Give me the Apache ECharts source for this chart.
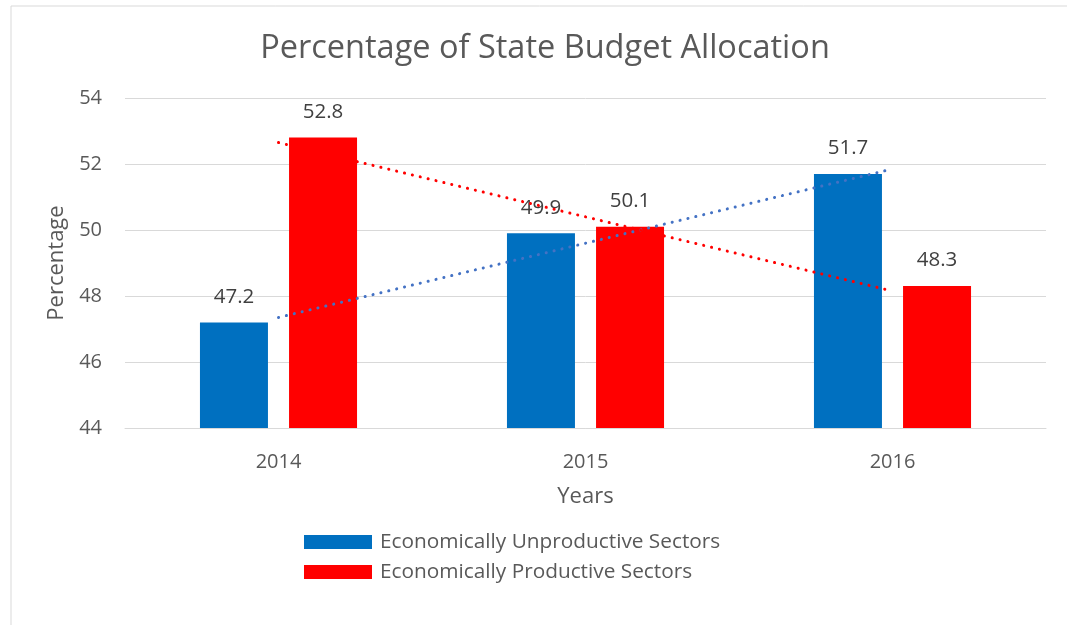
<!DOCTYPE html>
<html><head><meta charset="utf-8">
<script src="https://cdn.jsdelivr.net/npm/echarts@6/dist/echarts.min.js"></script>
<style>html,body{margin:0;padding:0;background:#fff}#c{width:1067px;height:625px}</style>
</head><body><div id="c"></div>
<script>
const categories = ['2014', '2015', '2016'];
const unproductive = [47.2, 49.9, 51.7];
const productive = [52.8, 50.1, 48.3];
const seriesNames = ['Economically Unproductive Sectors', 'Economically Productive Sectors'];
const titleText = 'Percentage of State Budget Allocation';

function trend(vals) {
  const n = vals.length;
  const xs = vals.map((_, i) => i);
  const mx = xs.reduce((a, b) => a + b, 0) / n;
  const my = vals.reduce((a, b) => a + b, 0) / n;
  let num = 0, den = 0;
  xs.forEach((x, i) => { num += (x - mx) * (vals[i] - my); den += (x - mx) * (x - mx); });
  const k = num / den, b = my - k * mx;
  return xs.map(x => +(b + k * x).toFixed(4));
}

const FONT = '"Open Sans", "Noto Sans", sans-serif';
const chart = echarts.init(document.getElementById('c'));
const labelStyle = { show: true, position: 'top', distance: 15, color: '#404040', fontSize: 20.5, fontFamily: FONT };
chart.setOption({
  animation: false,
  textStyle: { fontFamily: FONT },
  graphic: [{ type: 'rect', shape: { x: 11, y: 6, width: 1100, height: 700 }, style: { fill: 'none', stroke: '#d9d9d9', lineWidth: 1 }, silent: true }],
  title: { text: titleText, left: 540, top: 27, textAlign: 'center',
    textStyle: { fontSize: 32.5, fontWeight: 'normal', color: '#595959', fontFamily: FONT } },
  grid: { left: 125, right: 21, top: 98, bottom: 197 },
  legend: { orient: 'vertical', left: 299, top: 522, itemWidth: 68, itemHeight: 14, itemGap: 0,
    icon: 'rect',
    data: seriesNames, textStyle: { fontSize: 20.8, lineHeight: 30, color: '#595959', fontFamily: FONT, padding: [0, 0, 0, 3] } },
  xAxis: { type: 'category', data: categories, name: 'Years', nameLocation: 'middle', nameGap: 58,
    nameTextStyle: { fontSize: 22, color: '#595959' },
    axisLine: { lineStyle: { color: '#d9d9d9', width: 1 } }, axisTick: { show: false },
    axisLabel: { color: '#595959', fontSize: 20, margin: 24 } },
  yAxis: { type: 'value', min: 44, max: 54, interval: 2, name: 'Percentage', nameLocation: 'middle', nameGap: 55,
    nameTextStyle: { fontSize: 22, color: '#595959' },
    axisLine: { show: false }, axisTick: { show: false },
    axisLabel: { color: '#595959', fontSize: 20, margin: 23 },
    splitLine: { lineStyle: { color: '#d9d9d9', width: 1 } } },
  series: [
    { name: seriesNames[0], type: 'bar', data: unproductive, barWidth: 68, barGap: '31%', itemStyle: { color: '#0070C0' }, label: labelStyle, z: 2 },
    { name: seriesNames[1], type: 'bar', data: productive, barWidth: 68, itemStyle: { color: '#FF0000' }, label: labelStyle, z: 2 },
    { name: 'trend1', type: 'line', data: trend(unproductive), symbol: 'none', z: 3,
      lineStyle: { color: '#4472C4', width: 3, type: [0.1, 8], cap: 'round' } },
    { name: 'trend2', type: 'line', data: trend(productive), symbol: 'none', z: 3,
      lineStyle: { color: '#FF0000', width: 3, type: [0.1, 8], cap: 'round' } }
  ]
});
</script></body></html>
